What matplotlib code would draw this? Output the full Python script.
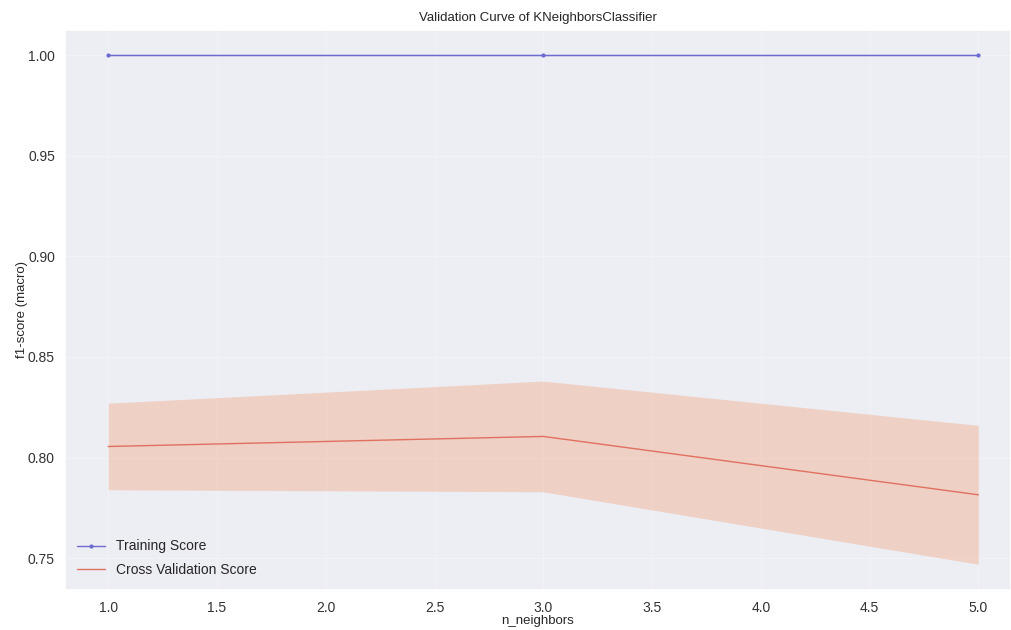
import numpy as np
import matplotlib
matplotlib.use("Agg")
import matplotlib.pyplot as plt
import seaborn as sns

# validation curve values
n_neighbors = [1, 3, 5]
train_mean = [1.0, 1.0, 1.0]
train_std = [0.0, 0.0, 0.0]
cv_mean = [0.8055, 0.8105, 0.7815]
cv_std = [0.0215, 0.0275, 0.0345]

sns.set_theme(style="darkgrid")
plt.rcParams['font.family'] = ['Liberation Sans', 'DejaVu Sans']

fig = plt.figure(figsize=(10.11, 6.3), dpi=100)
ax = fig.add_axes([0.064, 0.064, 0.936, 0.889])
ax.set_facecolor("#ededf4")

train_mean = np.array(train_mean)
cv_mean = np.array(cv_mean)

ax.plot(n_neighbors, train_mean, marker="o", markersize=2, lw=1,
        color="#6b6bd0", label="Training Score")
ax.fill_between(n_neighbors, train_mean - np.array(train_std),
                train_mean + np.array(train_std), color="#6b6bd0", alpha=0.2)
ax.plot(n_neighbors, cv_mean, lw=1, color="#e07060",
        label="Cross Validation Score")
ax.fill_between(n_neighbors, cv_mean - np.array(cv_std),
                cv_mean + np.array(cv_std), color="#f2a67c", alpha=0.4, lw=0)

ax.set_xlim(0.8, 5.15)
ax.grid(color="#f2f2f8", lw=0.8)
ax.tick_params(labelsize=10, colors="#333333")
ax.tick_params(axis="x", pad=2)
ax.tick_params(axis="y", pad=1)

ax.set_title("Validation Curve of KNeighborsClassifier", fontsize=9.5, pad=6)
ax.set_xlabel("n_neighbors", fontsize=9.5, labelpad=0)
ax.set_ylabel("f1-score (macro)", fontsize=9.5, labelpad=0)
ax.legend(loc="lower left", frameon=False, fontsize=10, labelspacing=0.7)

plt.savefig("out.png", dpi=100)
plt.close()
